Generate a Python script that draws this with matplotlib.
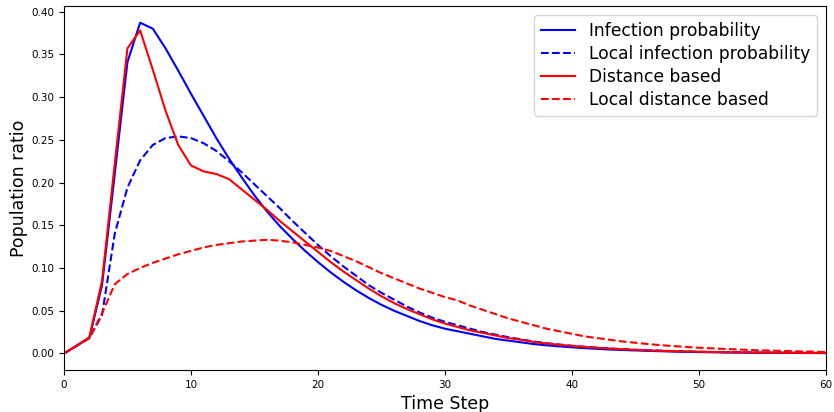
import matplotlib
matplotlib.use("Agg")
import matplotlib.pyplot as plt

time_steps = list(range(0, 61))

infection_probability = [
    0.000, 0.009, 0.018, 0.080, 0.210, 0.341, 0.387, 0.380, 0.357, 0.331,
    0.304, 0.278, 0.252, 0.228, 0.206, 0.185, 0.166, 0.149, 0.134, 0.120,
    0.107, 0.095, 0.084, 0.074, 0.065, 0.057, 0.050, 0.044, 0.038, 0.033,
    0.029, 0.026, 0.023, 0.020, 0.017, 0.015, 0.013, 0.011, 0.0095, 0.0083,
    0.0072, 0.0062, 0.0054, 0.0046, 0.0040, 0.0035, 0.0030, 0.0026, 0.0022, 0.0019,
    0.0016, 0.0014, 0.0012, 0.0010, 0.0009, 0.0008, 0.0007, 0.0006, 0.0005, 0.0004,
    0.0004,
]

local_infection_probability = [
    0.000, 0.009, 0.018, 0.045, 0.140, 0.194, 0.226, 0.244, 0.252, 0.254,
    0.252, 0.246, 0.237, 0.225, 0.212, 0.198, 0.184, 0.170, 0.155, 0.141,
    0.127, 0.114, 0.102, 0.091, 0.080, 0.071, 0.063, 0.055, 0.048, 0.042,
    0.037, 0.033, 0.029, 0.025, 0.022, 0.019, 0.0165, 0.014, 0.012, 0.0105,
    0.0090, 0.0078, 0.0067, 0.0058, 0.0050, 0.0043, 0.0037, 0.0032, 0.0027, 0.0023,
    0.0020, 0.0017, 0.0015, 0.0013, 0.0011, 0.0010, 0.0009, 0.0008, 0.0007, 0.0006,
    0.0005,
]

distance_based = [
    0.000, 0.009, 0.019, 0.085, 0.222, 0.357, 0.378, 0.332, 0.284, 0.244,
    0.220, 0.213, 0.210, 0.204, 0.192, 0.180, 0.168, 0.155, 0.143, 0.131,
    0.119, 0.107, 0.096, 0.086, 0.076, 0.067, 0.059, 0.052, 0.046, 0.040,
    0.035, 0.031, 0.027, 0.024, 0.021, 0.018, 0.016, 0.0135, 0.0117, 0.0101,
    0.0088, 0.0076, 0.0066, 0.0057, 0.0049, 0.0042, 0.0036, 0.0031, 0.0027, 0.0023,
    0.0020, 0.0017, 0.0015, 0.0013, 0.0011, 0.0010, 0.0009, 0.0008, 0.0007, 0.0006,
    0.0005,
]

local_distance_based = [
    0.000, 0.009, 0.018, 0.047, 0.081, 0.093, 0.100, 0.106, 0.111, 0.116,
    0.120, 0.124, 0.127, 0.129, 0.131, 0.132, 0.133, 0.132, 0.130, 0.127,
    0.124, 0.120, 0.114, 0.108, 0.101, 0.094, 0.088, 0.082, 0.076, 0.071,
    0.066, 0.062, 0.056, 0.051, 0.046, 0.041, 0.037, 0.033, 0.029, 0.026,
    0.023, 0.020, 0.018, 0.016, 0.014, 0.0125, 0.011, 0.0097, 0.0086, 0.0076,
    0.0067, 0.0060, 0.0053, 0.0047, 0.0041, 0.0036, 0.0032, 0.0028, 0.0024, 0.0020,
    0.0017,
]

fig = plt.figure(figsize=(8.34, 4.12), dpi=100)
ax = fig.add_axes([0.0767, 0.102, 0.9133, 0.883])

ax.plot(time_steps, infection_probability, color="blue", linestyle="-", lw=1.5,
        label="Infection probability")
ax.plot(time_steps, local_infection_probability, color="blue", linestyle="--", lw=1.5,
        label="Local infection probability")
ax.plot(time_steps, distance_based, color="red", linestyle="-", lw=1.5,
        label="Distance based")
ax.plot(time_steps, local_distance_based, color="red", linestyle="--", lw=1.5,
        label="Local distance based")

ax.set_xlim(0, 60)
ax.set_yticks([0.0, 0.05, 0.10, 0.15, 0.20, 0.25, 0.30, 0.35, 0.40])
ax.yaxis.set_major_formatter(matplotlib.ticker.FormatStrFormatter("%.2f"))
ax.tick_params(labelsize=7.5)
ax.set_xlabel("Time Step", fontsize=12.5)
ax.set_ylabel("Population ratio", fontsize=12.5, labelpad=2)
ax.legend(loc="upper right", fontsize=12.3, labelspacing=0.3)

fig.savefig("out.png", dpi=100)
